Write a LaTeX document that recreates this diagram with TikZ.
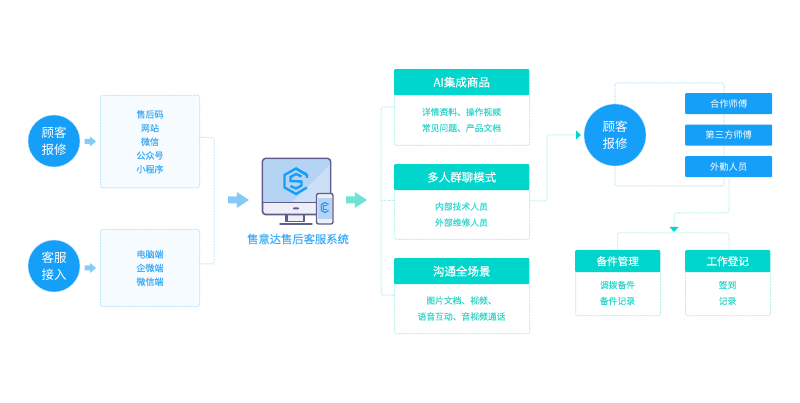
\documentclass[tikz,border=0pt]{standalone}
\usepackage{fontspec}
\setmainfont{Noto Sans CJK SC}
\newfontfamily\semib[FakeBold=0.3]{Noto Sans CJK SC}
\newfontfamily\lightb[FakeBold=0.12]{Noto Sans CJK SC}
\definecolor{blueM}{HTML}{169FF8}
\definecolor{blueT}{HTML}{3FABF6}
\definecolor{blueL}{HTML}{C6E8FC}
\definecolor{blueF}{HTML}{F5FBFF}
\definecolor{blueA}{HTML}{85CBF8}
\definecolor{greenM}{HTML}{00D6CB}
\definecolor{greenT}{HTML}{35D6CC}
\definecolor{greenL}{HTML}{BDF2ED}
\definecolor{greenA}{HTML}{6FE3D4}
\definecolor{monO}{HTML}{5F5D8C}
\definecolor{monS}{HTML}{B5D3F3}
\definecolor{monH}{HTML}{CBDFF7}
\definecolor{monB}{HTML}{EEEEF9}
\tikzset{
 x=1pt,y=-1pt,
 fine/.style={dash pattern=on 2pt off 0.8pt,line width=1pt},
 circ/.style={circle,fill=blueM,draw=blueL,line width=.4pt,text=white,inner sep=0,minimum size=#1,font=\fontsize{12.5}{16.5}\selectfont,align=center},
 listbox/.style={rounded corners=1.5pt,draw=blueL,fill=blueF,fine,inner sep=0,anchor=north west,text=blueT,font=\lightb\fontsize{9}{13.7}\selectfont,align=center},
 cardbox/.style={rounded corners=1.5pt,draw=greenL,fine,fill=white,inner sep=0,anchor=north west},
 cardhead/.style={fill=greenM,rounded corners=1pt,inner sep=0,anchor=north west,text=white,font=\semib\fontsize{#1}{14}\selectfont},
 cardtext/.style={text=greenT,font=\lightb\fontsize{8.8}{16}\selectfont,align=center,inner sep=0},
 tagbox/.style={fill=blueM,rounded corners=1pt,inner sep=0,anchor=north west,minimum width=87,minimum height=21,text=white,font=\fontsize{9.3}{11}\selectfont},
 blueconn/.style={draw=blueL,fine,rounded corners=1.5pt},
 greenconn/.style={draw=greenL,fine,rounded corners=1.5pt},
}
\newcommand{\fatarr}[4]{\fill[#4] (#1,#3-3.5) -- (#1+#2*0.42,#3-3.5) -- (#1+#2*0.42,#3-8) -- (#1+#2,#3) -- (#1+#2*0.42,#3+8) -- (#1+#2*0.42,#3+3.5) -- (#1,#3+3.5) -- cycle;}
\newcommand{\smlarr}[3]{\fill[#3] (#1,#2-2.5) -- (#1+5.5,#2-2.5) -- (#1+5.5,#2-5) -- (#1+11.5,#2) -- (#1+5.5,#2+5) -- (#1+5.5,#2+2.5) -- (#1,#2+2.5) -- cycle;}
\begin{document}
\begin{tikzpicture}
\useasboundingbox (0,0) rectangle (800,403);
% left circles
\node[circ=52pt] (c1) at (54,141) {顾客\\报修};
\node[circ=52pt] (c2) at (54,266) {客服\\接入};
\smlarr{84.5}{141.5}{blueA}
\smlarr{84.5}{268}{blueA}
% list boxes
\node[listbox,minimum width=99,minimum height=92.5] (l1) at (100,95) {售后码\\网站\\微信\\公众号\\小程序};
\node[listbox,minimum width=99,minimum height=77] (l2) at (100,229) {电脑端\\企微端\\微信端};
\coordinate (l1o) at (199,137.5);
\coordinate (l2o) at (199,264);
\draw[blueconn] (l1o) -- (214,137.5) -- (214,264) -- (l2o);
\fatarr{228}{21}{200}{blueA}
% computer
\begin{scope}
\fill[monO] (285,214) rectangle (305,222);
\fill[monB] (287.5,215) rectangle (302.5,221.5);
\draw[monO,line width=1.4pt,line cap=round] (280,224) -- (312,224);
\draw[monO,line width=1.6pt,rounded corners=3pt,fill=monB] (262.5,158.5) rectangle (330.5,214.5);
\fill[monS,rounded corners=2pt] (263.5,159.5) rectangle (329.5,202);
\fill[monH] (329.5,165) -- (329.5,202) -- (292,202) -- cycle;
\draw[monO,line width=.8pt] (263,202.5) -- (330,202.5);
\fill[monO,rounded corners=.8pt] (293,207.5) rectangle (299,209.5);
% logo
\draw[blueM,line width=2.4pt] (305,172) -- (305,174) -- (296,168.5) -- (284.5,175) -- (284.5,187.5) -- (296,194) -- (307,187.5);
\draw[blueM,line width=2.4pt] (296,168.5) -- (307,175) -- (307,178);
\draw[blueM,line width=2.4pt] (301.5,176.5) -- (296,174) -- (290.5,177) -- (290.5,181) -- (301.5,181.5) -- (301.5,185.5) -- (296,188.5) -- (290.5,186);
% phone
\draw[monO,line width=1.4pt,rounded corners=2pt,fill=monB] (316.5,193.5) rectangle (333,224);
\fill[monS] (318,198) rectangle (331.5,219);
\draw[blueM,line width=1.2pt] (328.5,204.5) -- (325,202.5) -- (321.5,204.5) -- (321.5,210.5) -- (325,212.5) -- (328.5,210.5);
\draw[blueM,line width=1pt] (327,205.5) -- (323.5,205.5) -- (323.5,209.5) -- (327,209.5);
\end{scope}
\node[text=blueT,font=\lightb\fontsize{11.3}{13}\selectfont,inner sep=0] (sys) at (298,239) {售意达售后客服系统};
\fatarr{346}{21}{200}{greenA}
% cards
\node[cardbox,minimum width=135,minimum height=76] (g1) at (394,69) {};
\node[cardhead=11.5,minimum width=135,minimum height=26] (h1) at (394,69) {AI集成商品};
\node[cardtext] (t1) at (461.5,120) {详情资料、操作视频\\常见问题、产品文档};
\node[cardbox,minimum width=135,minimum height=75] (g2) at (394,164) {};
\node[cardhead=11.5,minimum width=135,minimum height=26] (h2) at (394,164) {多人群聊模式};
\node[cardtext] (t2) at (461.5,214.5) {内部技术人员\\外部维修人员};
\node[cardbox,minimum width=135,minimum height=75] (g3) at (394,258) {};
\node[cardhead=11.5,minimum width=135,minimum height=26] (h3) at (394,258) {沟通全场景};
\node[cardtext] (t3) at (461.5,308.5) {图片文档、视频、\hspace{1.9em}\\语音互动、音视频通话};
\coordinate (g1l) at (394,107);
\coordinate (g2l) at (394,201);
\coordinate (g2r) at (529,201);
\coordinate (g3l) at (394,295);
\draw[greenconn] (g1l) -- (381,107) -- (381,295) -- (g3l);
\draw[greenconn] (381,201) -- (g2l);
% right circle
\node[circ=62pt] (c3) at (615,135) {顾客\\报修};
\draw[blueconn] (c3.north) -- (615,83) -- (724,83) -- (724,186) -- (615,186) -- (c3.south);
\coordinate (arrt) at (581,135);
\draw[greenconn] (g2r) -- (547,201) -- (547,135) -- (577,135);
\fill[greenM] (arrt) -- (576,130.5) -- (576,139.5) -- cycle;
% tag boxes
\node[tagbox] (b1) at (685,93) {合作师傅};
\node[tagbox] (b2) at (685,124.5) {第三方师傅};
\node[tagbox] (b3) at (685,156) {外勤人员};
% lower
\coordinate (b3o) at (729,177);
\coordinate (arrb) at (674,232);
\draw[greenconn] (b3o) -- (729,213) -- (674,213) -- (674,227);
\fill[greenM] (arrb) -- (669.5,227) -- (678.5,227) -- cycle;
\node[cardbox,minimum width=85,minimum height=65] (g4) at (575,250) {};
\node[cardhead=10.6,minimum width=85,minimum height=22] (h4) at (575,250) {备件管理};
\node[cardtext] (t4) at (617.5,293) {调拨备件\\备件记录};
\node[cardbox,minimum width=85,minimum height=65] (g5) at (685,250) {};
\node[cardhead=10.6,minimum width=85,minimum height=22] (h5) at (685,250) {工作登记};
\node[cardtext] (t5) at (727.5,293) {签到\\记录};
\draw[greenconn] (h4.north) -- (617.5,233) -- (729,233) -- (729,250);
\end{tikzpicture}
\end{document}
